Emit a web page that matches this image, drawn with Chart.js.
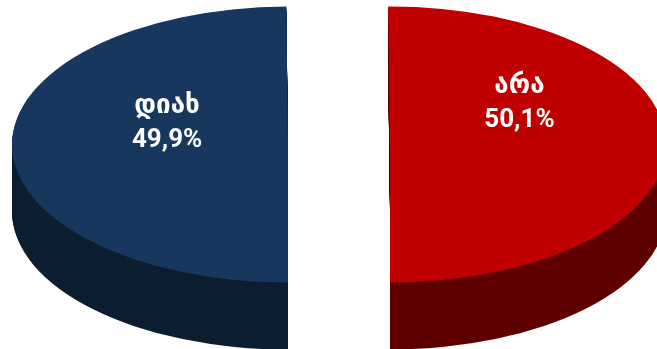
<!DOCTYPE html>
<html>
<head>
<meta charset="utf-8">
<script src="https://cdn.jsdelivr.net/npm/chart.js@4.4.0/dist/chart.umd.min.js"></script>
<style>
  html, body { margin: 0; padding: 0; background: #fff; }
  #caixa { width: 657px; height: 349px; position: relative; }
</style>
</head>
<body>
<div id="caixa"><canvas id="graficoPizza"></canvas></div>
<script>
const categorias = ['დიახ', 'არა'];
const percentuais = [49.9, 50.1];
const coresTopo = ['#17375E', '#C00000'];
const coresLateral = ['#0D1E31', '#5F0000'];

const ESPESSURA = 67;     // altura da lateral em px
const ACHATAMENTO = 0.5;  // raio vertical / raio horizontal
const AFASTAMENTO = 51;   // quanto cada fatia sai do centro

// posicao dos rotulos: fracao do raio a partir do centro de cada metade e deslocamento vertical
const posRotulos = [
  { r: 0.438, dy: -32 },
  { r: 0.469, dy: -52 }
];

function textoPercentual(valor) {
  return valor.toFixed(1).replace('.', ',') + '%';
}

// separa as fatias (o offset do chart.js corta o angulo da fatia, entao move o centro direto)
const explodir = {
  id: 'explodir',
  afterDatasetsUpdate(chart) {
    chart.getDatasetMeta(0).data.forEach(arco => {
      const meio = (arco.startAngle + arco.endAngle) / 2;
      arco.x += Math.cos(meio) * AFASTAMENTO;
      arco.y += Math.sin(meio) * AFASTAMENTO;
    });
  }
};

// achata a pizza e desenha a lateral escura embaixo de cada fatia
const pizza3d = {
  id: 'pizza3d',
  beforeDatasetsDraw(chart) {
    const ctx = chart.ctx;
    const arcos = chart.getDatasetMeta(0).data;
    const area = chart.chartArea;
    const cy = (area.top + area.bottom) / 2;

    ctx.save();
    ctx.translate(0, cy);
    ctx.scale(1, ACHATAMENTO);
    ctx.translate(0, -cy);

    for (let d = ESPESSURA; d > 0; d--) {
      ctx.save();
      ctx.translate(0, d / ACHATAMENTO);
      arcos.forEach((arco, i) => {
        const lateral = Object.create(arco);
        lateral.options = Object.assign({}, arco.options, {
          backgroundColor: coresLateral[i],
          borderWidth: 0
        });
        lateral.draw(ctx);
      });
      ctx.restore();
    }
  },
  afterDatasetsDraw(chart) {
    chart.ctx.restore();
  }
};

const rotulos = {
  id: 'rotulos',
  afterDraw(chart) {
    const ctx = chart.ctx;
    const arcos = chart.getDatasetMeta(0).data;
    const area = chart.chartArea;
    const cy = (area.top + area.bottom) / 2;

    ctx.save();
    ctx.fillStyle = '#FFFFFF';
    ctx.textAlign = 'center';
    ctx.textBaseline = 'alphabetic';

    arcos.forEach((arco, i) => {
      const meio = (arco.startAngle + arco.endAngle) / 2;
      const x = arco.x + Math.cos(meio) * arco.outerRadius * posRotulos[i].r;
      const y = cy + posRotulos[i].dy;

      ctx.font = 'bold 26px "DejaVu Sans"';
      ctx.fillText(categorias[i], x, y);
      ctx.font = 'bold 26px Roboto, "DejaVu Sans"';
      ctx.fillText(textoPercentual(percentuais[i]), x, y + 34);
    });

    ctx.restore();
  }
};

const ctxPizza = document.getElementById('graficoPizza').getContext('2d');

new Chart(ctxPizza, {
  type: 'pie',
  data: {
    labels: categorias,
    datasets: [{
      data: percentuais,
      backgroundColor: coresTopo,
      borderWidth: 0,
      clip: false
    }]
  },
  options: {
    responsive: true,
    maintainAspectRatio: false,
    animation: false,
    events: [],
    rotation: 180,
    radius: 276,
    layout: { padding: { left: 21, bottom: 60 } },
    plugins: {
      legend: { display: false },
      tooltip: { enabled: false }
    }
  },
  plugins: [explodir, pizza3d, rotulos]
});
</script>
</body>
</html>
